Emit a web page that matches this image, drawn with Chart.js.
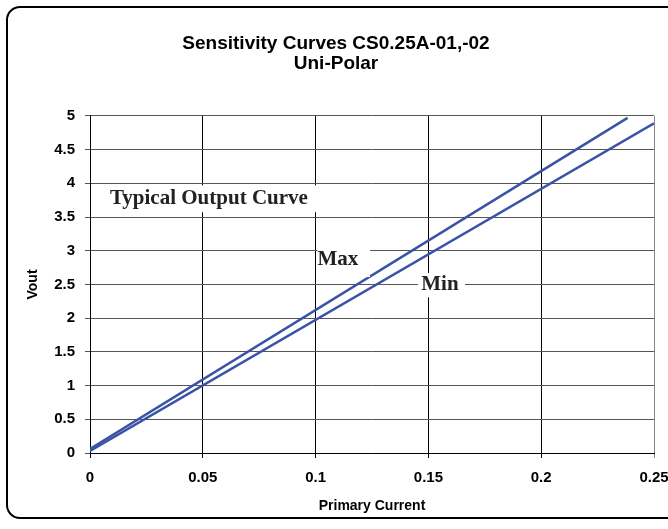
<!DOCTYPE html>
<html>
<head>
<meta charset="utf-8">
<script src="https://cdn.jsdelivr.net/npm/chart.js@4"></script>
<style>
  html, body { margin: 0; padding: 0; background: #fff; overflow: hidden; width: 668px; height: 529px; }
  #marco {
    position: absolute; left: 6px; top: 6px; width: 700px; height: 513px;
    border: 2px solid #000; border-radius: 14px; box-sizing: border-box;
  }
  #caja { position: absolute; left: 0; top: 0; width: 684px; height: 529px; }
</style>
</head>
<body>
<div id="marco"></div>
<div id="caja"><canvas id="grafico"></canvas></div>
<script>
// valores
const corrienteMax = [0, 0.2383];
const voutMax = [0.06, 4.97];
const corrienteMin = [0, 0.25];
const voutMin = [0.03, 4.89];
const etiquetasX = ["0", "0.05", "0.1", "0.15", "0.2", "0.25"];
const etiquetasY = ["0", "0.5", "1", "1.5", "2", "2.5", "3", "3.5", "4", "4.5", "5"];

const azul = "#3953a6";

// cajas de texto encima del grafico (coordenadas de datos)
const rotulos = [
  { texto: "Typical Output Curve", x: 0.0527, y: 3.77, caja: [0.0044, 0.103, 3.97, 3.57] },
  { texto: "Max", x: 0.1099, y: 2.87, caja: [0.1008, 0.1241, 3.09, 2.61] },
  { texto: "Min", x: 0.1551, y: 2.50, caja: [0.1454, 0.1662, 2.67, 2.31] }
];

const pluginRotulos = {
  id: "rotulos",
  afterDatasetsDraw(chart) {
    const { ctx, scales } = chart;
    const sx = scales.x, sy = scales.y;
    ctx.save();
    rotulos.forEach(r => {
      const x0 = sx.getPixelForValue(r.caja[0]);
      const x1 = sx.getPixelForValue(r.caja[1]);
      const y0 = sy.getPixelForValue(r.caja[2]);
      const y1 = sy.getPixelForValue(r.caja[3]);
      ctx.fillStyle = "#fff";
      ctx.fillRect(x0, y0, x1 - x0, y1 - y0);
      ctx.fillStyle = "#222";
      ctx.font = "bold 21px 'Liberation Serif', 'Times New Roman', serif";
      ctx.textAlign = "center";
      ctx.textBaseline = "middle";
      ctx.fillText(r.texto, sx.getPixelForValue(r.x), sy.getPixelForValue(r.y));
    });
    ctx.restore();
  }
};

const fuenteEje = { family: "'Liberation Sans', Arial, sans-serif", size: 15, weight: "bold" };

new Chart(document.getElementById("grafico"), {
  type: "scatter",
  data: {
    datasets: [
      {
        label: "Max",
        data: corrienteMax.map((c, i) => ({ x: c, y: voutMax[i] })),
        showLine: true,
        borderColor: azul,
        borderWidth: 2.5,
        pointRadius: 0,
        fill: false
      },
      {
        label: "Min",
        data: corrienteMin.map((c, i) => ({ x: c, y: voutMin[i] })),
        showLine: true,
        borderColor: azul,
        borderWidth: 2.5,
        pointRadius: 0,
        fill: false
      }
    ]
  },
  options: {
    responsive: true,
    maintainAspectRatio: false,
    animation: false,
    layout: { padding: { top: 0, left: 18, right: 30, bottom: 0 } },
    plugins: {
      legend: { display: false },
      tooltip: { enabled: false },
      title: {
        display: true,
        text: ["Sensitivity Curves CS0.25A-01,-02", "Uni-Polar"],
        color: "#000",
        font: { family: "'Liberation Sans', Arial, sans-serif", size: 19, weight: "bold", lineHeight: 1.05 },
        padding: { top: 34, bottom: 42 }
      }
    },
    scales: {
      x: {
        type: "linear",
        min: 0,
        max: 0.25,
        afterFit: s => { s.height = 76; },
        afterBuildTicks: s => { s.ticks = etiquetasX.map((t, i) => ({ value: i * 0.05 })); },
        ticks: {
          callback: (v, i) => etiquetasX[i],
          color: "#000",
          font: fuenteEje,
          padding: 11,
          maxRotation: 0,
          autoSkip: false
        },
        grid: {
          color: ctx => (ctx.index === etiquetasX.length - 1 ? "#888" : "#000"),
          lineWidth: 1,
          tickLength: 5
        },
        border: { color: "#000", width: 1 },
        title: {
          display: true,
          text: "Primary Current",
          color: "#000",
          font: { family: "'Liberation Sans', Arial, sans-serif", size: 14, weight: "bold" },
          padding: { top: 4, bottom: 14 }
        }
      },
      y: {
        min: 0,
        max: 5,
        afterFit: s => { s.width = 72; },
        afterBuildTicks: s => { s.ticks = etiquetasY.map((t, i) => ({ value: i * 0.5 })); },
        ticks: {
          callback: (v, i) => etiquetasY[i],
          color: "#000",
          font: fuenteEje,
          padding: 10
        },
        grid: { color: "#555", lineWidth: 1, tickLength: 5 },
        border: { color: "#000", width: 1 },
        title: {
          display: true,
          text: "Vout",
          color: "#000",
          font: { family: "'Liberation Sans', Arial, sans-serif", size: 14, weight: "bold" },
          padding: { top: 7, bottom: 4 }
        }
      }
    }
  },
  plugins: [pluginRotulos]
});
</script>
</body>
</html>
